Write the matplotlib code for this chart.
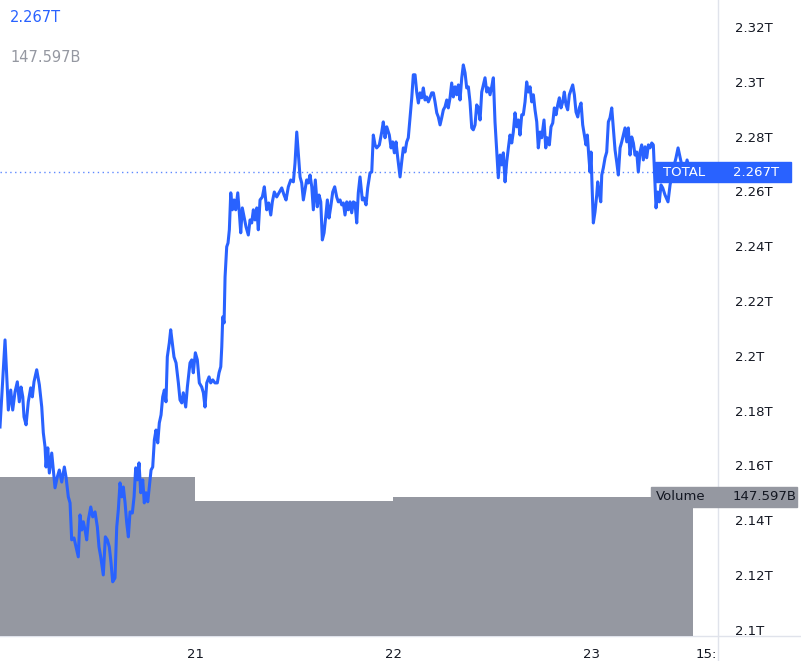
import matplotlib
matplotlib.use("Agg")
import matplotlib.pyplot as plt
from matplotlib.patches import Rectangle
from matplotlib.lines import Line2D
from matplotlib.transforms import blended_transform_factory

# hours since 20 Apr 00:00
hours = [
    0.36, 0.57, 0.97, 1.18, 1.37, 1.66, 1.90, 2.18, 2.46, 2.70,
    2.91, 3.12, 3.27, 3.52, 3.79, 4.08, 4.28, 4.48, 4.81, 5.13,
    5.42, 5.61, 5.82, 5.94, 6.15, 6.34, 6.63, 6.82, 7.03, 7.31,
    7.55, 7.84, 8.16, 8.36, 8.64, 8.85, 9.05, 9.33, 9.66, 9.85,
    10.06, 10.27, 10.46, 10.67, 10.87, 11.07, 11.36, 11.60, 11.88, 12.16,
    12.36, 12.57, 12.88, 13.13, 13.37, 13.61, 13.82, 14.02, 14.30, 14.51,
    14.70, 14.91, 15.11, 15.31, 15.52, 15.72, 15.92, 16.12, 16.40, 16.61,
    16.81, 17.01, 17.21, 17.42, 17.66, 17.85, 18.06, 18.27, 18.46, 18.67,
    18.87, 19.07, 19.27, 19.48, 19.67, 19.88, 20.08, 20.28, 20.48, 20.64,
    20.88, 21.05, 21.25, 21.45, 21.70, 21.98, 22.18,
    22.39, 22.58, 22.87, 23.07, 23.39, 23.60, 23.79, 24.04, 24.28, 24.52,
    24.81, 25.01, 25.21, 25.42, 25.70, 25.90, 26.15, 26.42, 26.70, 26.91,
    27.12, 27.24, 27.36, 27.52, 27.64, 27.84, 28.00, 28.16, 28.33, 28.52,
    28.73, 28.93, 29.18, 29.37, 29.54, 29.73, 29.94, 30.18, 30.46, 30.67,
    30.87, 31.07, 31.27, 31.48, 31.67, 31.88, 32.16, 32.40, 32.69, 32.93,
    33.18, 33.37, 33.61, 33.90, 34.18, 34.51, 34.79, 35.03, 35.31, 35.60,
    35.92, 36.12, 36.33, 36.52, 36.73, 36.93, 37.13, 37.33, 37.53, 37.73,
    37.94, 38.15, 38.34, 38.58, 38.82, 39.03, 39.24, 39.43, 39.64, 39.84,
    40.04, 40.24, 40.45, 40.69, 40.93, 41.17, 41.37, 41.58, 41.78, 41.98,
    42.18, 42.39, 42.58, 42.79, 42.99, 43.19, 43.39, 43.60, 43.79, 44.00,
    44.28, 44.48, 44.73, 44.93, 45.21,
    45.42, 45.61, 45.82, 46.02, 46.34, 46.63, 46.82, 47.03, 47.24, 47.55,
    47.76, 47.96, 48.16, 48.36, 48.57, 48.85, 49.05, 49.25, 49.45, 49.66,
    49.85, 50.06, 50.27, 50.46, 50.67, 50.87, 51.07, 51.27, 51.48, 51.67,
    51.88, 52.08, 52.28, 52.48, 52.69, 52.89, 53.09, 53.30, 53.49, 53.70,
    53.90, 54.10, 54.30, 54.51, 54.70, 54.91, 55.11, 55.31, 55.52, 55.72,
    55.92, 56.12, 56.33, 56.52, 56.73, 56.93, 57.13, 57.33, 57.54, 57.73,
    57.94, 58.14, 58.34, 58.55, 58.75, 58.95, 59.15, 59.36, 59.55, 59.76,
    59.96, 60.16, 60.36, 60.57, 60.76, 60.97, 61.17, 61.37, 61.58, 61.78,
    61.98, 62.18, 62.39, 62.58, 62.79, 62.99, 63.19, 63.39, 63.60, 63.79,
    64.00, 64.20, 64.40, 64.61, 64.81, 65.01, 65.21, 65.42, 65.61,
    65.82, 66.02, 66.30, 66.51, 66.70, 66.95, 67.15, 67.36, 67.55, 67.76,
    67.96, 68.16, 68.36, 68.57, 68.76, 68.97, 69.17, 69.37, 69.58, 69.78,
    69.98, 70.18, 70.39, 70.58, 70.79, 70.99, 71.19, 71.39, 71.55, 71.72,
    71.88, 72.00, 72.12, 72.28, 72.48, 72.69, 72.81, 72.97, 73.18, 73.30,
    73.49, 73.70, 73.90, 74.10, 74.30, 74.51, 74.70, 74.91, 75.11, 75.31,
    75.52, 75.72, 75.91, 76.12, 76.33, 76.52, 76.73, 76.93, 77.13, 77.33,
    77.54, 77.73, 77.94, 78.14, 78.34, 78.55, 78.75, 78.95, 79.15, 79.36,
    79.55, 79.76, 79.88, 80.08, 80.28, 80.48, 80.69, 80.97, 81.33, 81.58,
    81.94, 82.30, 82.55, 82.91, 83.27, 83.64, 84.00,
]

# total crypto market cap, billions USD
total_b = [
    2174.0, 2185.0, 2205.8, 2192.3, 2180.2, 2187.5, 2180.2, 2186.8, 2190.5, 2183.2,
    2188.6, 2185.0, 2177.7, 2174.8, 2183.2, 2188.3, 2185.0, 2190.5, 2194.9, 2189.4,
    2181.3, 2171.9, 2166.7, 2159.4, 2166.4, 2157.2, 2164.5, 2158.3, 2151.8, 2155.8,
    2158.3, 2153.9, 2159.4, 2155.8, 2148.5, 2146.3, 2132.8, 2133.5, 2129.1, 2126.6,
    2141.9, 2136.4, 2139.4, 2136.4, 2132.8, 2140.1, 2144.8, 2141.2, 2143.0, 2137.5,
    2130.2, 2126.6, 2120.0, 2133.9, 2132.8, 2130.2, 2124.4, 2117.5, 2118.9, 2137.5,
    2143.7, 2153.6, 2148.5, 2152.1, 2146.3, 2139.0, 2133.9, 2143.0, 2142.6, 2148.5,
    2159.1, 2154.7, 2160.9, 2150.0, 2154.7, 2146.3, 2150.0, 2146.7, 2152.1, 2158.3,
    2159.4, 2169.3, 2172.9, 2168.2, 2175.5, 2178.4, 2185.0, 2187.5, 2183.2, 2199.6,
    2204.7, 2209.5, 2204.7, 2199.6, 2197.4, 2190.1, 2183.9,
    2182.8, 2186.5, 2181.3, 2188.6, 2197.4, 2198.5, 2193.8, 2201.1, 2198.5, 2190.1,
    2188.6, 2186.5, 2181.3, 2190.1, 2192.3, 2190.1, 2191.2, 2190.1, 2190.1, 2193.8,
    2196.0, 2203.2, 2214.2, 2212.0, 2228.8, 2239.8, 2241.2, 2246.0, 2259.5, 2253.3,
    2256.9, 2253.3, 2259.5, 2252.2, 2244.9, 2254.0, 2250.7, 2247.1, 2244.1, 2249.6,
    2248.5, 2253.3, 2249.6, 2254.0, 2246.0, 2256.9, 2258.0, 2261.7, 2253.3, 2255.8,
    2251.4, 2256.2, 2259.8, 2258.0, 2259.5, 2261.3, 2258.7, 2256.9, 2261.7, 2264.2,
    2263.5, 2270.4, 2281.7, 2274.1, 2265.3, 2263.1, 2256.9, 2260.6, 2264.2, 2263.1,
    2266.0, 2261.7, 2253.3, 2264.2, 2254.4, 2258.7, 2256.2, 2242.3, 2244.9, 2250.7,
    2256.9, 2250.3, 2254.4, 2259.8, 2261.7, 2258.0, 2256.2, 2256.9, 2255.1, 2255.8,
    2251.4, 2256.2, 2253.3, 2256.2, 2252.2, 2256.2, 2255.8, 2248.5, 2259.5, 2265.3,
    2256.9, 2257.6, 2255.1, 2261.3, 2266.8,
    2267.1, 2280.6, 2277.0, 2275.9, 2277.0, 2281.7, 2285.4, 2279.6, 2283.6, 2280.6,
    2275.9, 2278.1, 2274.1, 2278.1, 2272.3, 2265.3, 2270.8, 2275.9, 2274.4, 2278.1,
    2279.6, 2286.9, 2294.2, 2302.6, 2302.6, 2296.3, 2292.3, 2296.0, 2294.2, 2297.8,
    2293.4, 2294.5, 2292.7, 2294.2, 2296.0, 2296.0, 2292.7, 2288.7, 2287.2, 2284.3,
    2286.9, 2289.8, 2290.9, 2293.4, 2290.5, 2294.2, 2299.6, 2294.5, 2298.2, 2295.3,
    2298.9, 2293.4, 2301.5, 2306.2, 2303.3, 2297.8, 2298.2, 2292.7, 2283.2, 2282.5,
    2284.3, 2291.6, 2290.5, 2286.1, 2296.3, 2298.9, 2301.5, 2296.3, 2297.8, 2295.3,
    2298.2, 2301.5, 2285.4, 2274.4, 2265.0, 2273.3, 2269.7, 2274.1, 2263.5, 2270.8,
    2275.9, 2280.6, 2277.7, 2281.7, 2288.7, 2283.6, 2286.1, 2280.6, 2288.0, 2288.0,
    2292.7, 2300.0, 2296.3, 2298.2, 2292.7, 2295.3, 2289.8, 2285.4, 2275.9,
    2281.7, 2279.6, 2286.1, 2275.9, 2279.6, 2277.0, 2283.6, 2285.0, 2290.5, 2288.0,
    2291.6, 2294.2, 2290.5, 2292.7, 2296.3, 2291.6, 2289.8, 2295.3, 2297.1, 2298.9,
    2295.3, 2289.0, 2287.2, 2290.5, 2292.3, 2284.3, 2280.6, 2277.0, 2280.6, 2273.3,
    2267.1, 2274.4, 2262.4, 2248.5, 2252.5, 2258.7, 2263.5, 2259.8, 2256.2, 2266.0,
    2268.6, 2272.3, 2274.4, 2285.4, 2286.9, 2290.5, 2283.2, 2275.2, 2270.8, 2266.0,
    2275.9, 2278.1, 2280.6, 2283.2, 2278.1, 2283.2, 2273.3, 2279.9, 2277.7, 2273.3,
    2274.4, 2267.1, 2274.4, 2277.0, 2271.5, 2276.3, 2272.3, 2277.0, 2275.9, 2277.7,
    2277.0, 2262.4, 2254.0, 2259.8, 2256.2, 2262.4, 2261.3, 2258.7, 2256.2, 2262.4,
    2267.9, 2272.3, 2275.9, 2270.8, 2266.0, 2271.5, 2267.1,
]

# daily volume bars (start hour, span in hours, billions)
vol_start = [0, 24, 48, 72]
vol_span = [24, 24, 24, 12.4]
volume_b = [168.8, 143.3, 147.6, 147.597]

price_ticks = [2.10, 2.12, 2.14, 2.16, 2.18, 2.20, 2.22, 2.24, 2.26, 2.28, 2.30, 2.32]
day_ticks = [24, 48, 72]
day_labels = ["21", "22", "23"]

BLUE = "#2962ff"
GREY = "#9598a1"
TEXT = "#131722"
SEP = "#e0e3eb"

W, H = 801, 661
fig = plt.figure(figsize=(W / 100, H / 100), dpi=100)
rect = [0, 25 / H, 718 / W, 636 / H]
xlim = (0.36, 87.39)
ylim = (2.0977, 2.3299)
vlim = (0, 675.3)

# volume underneath, price on top
ax_vol = fig.add_axes(rect, facecolor="none")
ax = fig.add_axes(rect, facecolor="none")

ax_vol.bar(vol_start, volume_b, width=vol_span, align="edge", color=GREY, linewidth=0)
ax_vol.set_xlim(*xlim)
ax_vol.set_ylim(*vlim)
ax_vol.axis("off")

total_t = [v / 1000 for v in total_b]
last = total_t[-1]
ax.plot(hours, total_t, color=BLUE, lw=2.2, solid_joinstyle="round", zorder=3)
ax.axhline(last, xmin=0, xmax=655 / 718, color=BLUE, lw=1, ls=(0, (1, 2.5)), alpha=0.75, zorder=2)
ax.set_xlim(*xlim)
ax.set_ylim(*ylim)

for s in ax.spines.values():
    s.set_visible(False)
ax.yaxis.tick_right()
ax.set_yticks(price_ticks)
ax.set_yticklabels([f"{t:.2f}".rstrip("0").rstrip(".") + "T" for t in price_ticks])
ax.tick_params(axis="y", length=0, pad=12.5, labelsize=9.5, labelcolor=TEXT)
ax.set_xticks(day_ticks)
ax.set_xticklabels(day_labels)
ax.tick_params(axis="x", length=0, pad=9, labelsize=9.5, labelcolor=TEXT)
fig.text(717 / W, 1 - 655 / H, "15:", ha="right", va="center", fontsize=9.5, color=TEXT)

# separators
fig.add_artist(Line2D([718 / W, 718 / W], [0, 1], transform=fig.transFigure, color=SEP, lw=1, zorder=-1))
fig.add_artist(Line2D([0, 1], [25 / H, 25 / H], transform=fig.transFigure, color=SEP, lw=1, zorder=-1))

# price label
tr = blended_transform_factory(fig.transFigure, ax.transData)
box_h = 20 * (ylim[1] - ylim[0]) / 636
ax.add_patch(Rectangle((655 / W, last - box_h / 2), 136 / W, box_h, transform=tr,
                       color=BLUE, clip_on=False, zorder=5))
ax.text(663 / W, last, "TOTAL", transform=tr, color="white", fontsize=9.5, va="center", zorder=6)
ax.text(733 / W, last, f"{last:.3f}T", transform=tr, color="white", fontsize=9.5, va="center", zorder=6)

# volume label
vtr = blended_transform_factory(fig.transFigure, ax_vol.transData)
vol_last = volume_b[-1]
vbox_h = 20 * (vlim[1] - vlim[0]) / 636
ax_vol.add_patch(Rectangle((651 / W, vol_last - vbox_h / 2), 146 / W, vbox_h, transform=vtr,
                           color=GREY, clip_on=False, zorder=5))
ax_vol.text(656 / W, vol_last, "Volume", transform=vtr, color=TEXT, fontsize=9.5, va="center", zorder=6)
ax_vol.text(733 / W, vol_last, f"{vol_last:.3f}B", transform=vtr, color=TEXT, fontsize=9.5, va="center", zorder=6)

# header values
fig.text(10 / W, 1 - 18 / H, f"{last:.3f}T", color=BLUE, fontsize=10.5, va="center")
fig.text(10 / W, 1 - 58 / H, f"{vol_last:.3f}B", color=GREY, fontsize=10.5, va="center")

fig.savefig("out.png", dpi=100)
